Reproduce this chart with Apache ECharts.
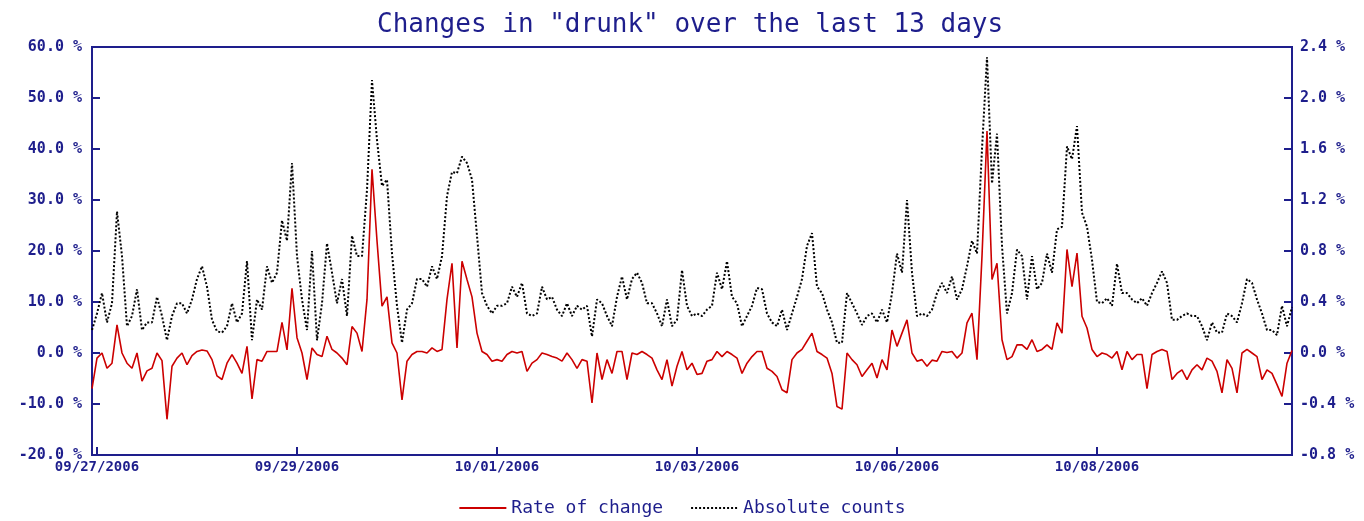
<!DOCTYPE html>
<html>
<head>
<meta charset="utf-8">
<script src="https://cdn.jsdelivr.net/npm/echarts@6/dist/echarts.min.js"></script>
<style>
  html, body { margin: 0; padding: 0; background: #fff; }
  #chart { width: 1364px; height: 521px; }
</style>
</head>
<body>
<div id="chart"></div>
<script>
// x tick labels, one every 40 samples starting at sample 1
var tickLabels = ['09/27/2006', '09/29/2006', '10/01/2006', '10/03/2006', '10/06/2006', '10/08/2006'];

// left axis, %
var rateOfChange = [
  -7, -1, 0, -3, -2, 5.5, 0, -2, -3, 0,
  -5.5, -3.5, -3, 0, -1.5, -13, -2.6, -1, 0, -2.3,
  -0.5, 0.3, 0.6, 0.4, -1.3, -4.5, -5.2, -2, -0.3, -2,
  -4, 1.3, -9, -1.3, -1.6, 0.3, 0.3, 0.3, 6, 0.6,
  12.7, 3, 0, -5.2, 1, -0.3, -0.7, 3.3, 0.7, 0,
  -1, -2.3, 5.2, 3.9, 0.3, 10.5, 36, 22, 9.2, 11,
  2, 0, -9.2, -1.6, -0.3, 0.3, 0.3, 0, 1, 0.3,
  0.7, 10.5, 17.6, 1, 18, 14.4, 11, 3.9, 0.3, -0.3,
  -1.6, -1.3, -1.6, -0.3, 0.3, 0, 0.3, -3.6, -2, -1.3,
  0, -0.3, -0.7, -1, -1.6, 0, -1.3, -3, -1.3, -1.6,
  -9.8, 0, -5.2, -1.3, -4, 0.3, 0.3, -5.2, 0, -0.3,
  0.3, -0.3, -1, -3.3, -5.2, -1.3, -6.5, -2.6, 0.3, -3.3,
  -2, -4.2, -4, -1.6, -1.3, 0.3, -0.7, 0.3, -0.3, -1,
  -4, -2, -0.7, 0.3, 0.3, -3, -3.6, -4.6, -7.2, -7.8,
  -1.3, 0, 0.7, 2.3, 3.9, 0.3, -0.3, -1, -4, -10.5,
  -11, 0, -1.3, -2.3, -4.6, -3.3, -2, -4.9, -1.3, -3.3,
  4.5, 1.3, 3.9, 6.5, 0, -1.6, -1.3, -2.6, -1.4, -1.6,
  0.3, 0.1, 0.3, -1, 0, 5.9, 7.8, -1.3, 19, 43.5,
  14.4, 17.6, 2.6, -1.3, -0.7, 1.6, 1.6, 0.7, 2.6, 0.3,
  0.7, 1.6, 0.7, 5.9, 3.9, 20.3, 13, 19.6, 7.2, 4.9,
  0.7, -0.7, 0, -0.3, -1, 0.3, -3.3, 0.3, -1.3, -0.3,
  -0.3, -7, -0.3, 0.3, 0.7, 0.3, -5.2, -4, -3.3, -5.2,
  -3.3, -2.3, -3.3, -1, -1.6, -3.6, -7.8, -1.3, -3, -7.8,
  0, 0.7, 0, -0.7, -5.2, -3.3, -4, -6.2, -8.5, -2,
  0.5
];

// right axis, %
var absoluteCounts = [
  0.18, 0.31, 0.47, 0.24, 0.39, 1.11, 0.76, 0.21, 0.29, 0.50,
  0.18, 0.24, 0.24, 0.44, 0.29, 0.10, 0.29, 0.39, 0.39, 0.31,
  0.42, 0.58, 0.68, 0.52, 0.26, 0.17, 0.16, 0.21, 0.39, 0.24,
  0.31, 0.72, 0.10, 0.42, 0.34, 0.68, 0.55, 0.63, 1.04, 0.88,
  1.49, 0.76, 0.42, 0.18, 0.80, 0.10, 0.39, 0.86, 0.63, 0.39,
  0.58, 0.29, 0.92, 0.76, 0.76, 1.28, 2.14, 1.67, 1.31, 1.36,
  0.78, 0.37, 0.08, 0.34, 0.39, 0.58, 0.58, 0.52, 0.68, 0.58,
  0.76, 1.23, 1.42, 1.41, 1.54, 1.49, 1.36, 0.92, 0.47, 0.37,
  0.31, 0.37, 0.37, 0.39, 0.52, 0.44, 0.55, 0.31, 0.29, 0.31,
  0.52, 0.42, 0.44, 0.34, 0.29, 0.39, 0.29, 0.37, 0.34, 0.37,
  0.13, 0.42, 0.39, 0.29, 0.21, 0.44, 0.60, 0.42, 0.58, 0.63,
  0.55, 0.39, 0.39, 0.31, 0.21, 0.42, 0.21, 0.26, 0.65, 0.37,
  0.29, 0.31, 0.29, 0.34, 0.37, 0.63, 0.50, 0.72, 0.44, 0.39,
  0.21, 0.29, 0.37, 0.51, 0.50, 0.31, 0.24, 0.21, 0.34, 0.18,
  0.31, 0.44, 0.58, 0.84, 0.94, 0.52, 0.47, 0.34, 0.24, 0.08,
  0.08, 0.47, 0.39, 0.31, 0.22, 0.29, 0.31, 0.24, 0.34, 0.24,
  0.47, 0.78, 0.63, 1.20, 0.63, 0.29, 0.31, 0.29, 0.34, 0.47,
  0.55, 0.47, 0.60, 0.42, 0.50, 0.68, 0.88, 0.78, 1.60, 2.32,
  1.33, 1.72, 0.84, 0.31, 0.47, 0.81, 0.76, 0.42, 0.76, 0.50,
  0.55, 0.78, 0.63, 0.97, 0.99, 1.62, 1.52, 1.78, 1.10, 0.99,
  0.73, 0.40, 0.39, 0.43, 0.37, 0.70, 0.47, 0.47, 0.42, 0.39,
  0.43, 0.37, 0.47, 0.55, 0.64, 0.55, 0.26, 0.26, 0.29, 0.31,
  0.29, 0.29, 0.21, 0.10, 0.24, 0.16, 0.16, 0.31, 0.29, 0.24,
  0.39, 0.58, 0.55, 0.42, 0.31, 0.18, 0.18, 0.14, 0.37, 0.21,
  0.36
];

var navy = '#1e1e8c';
var mono = "'DejaVu Sans Mono', 'Liberation Mono', monospace";
var categories = rateOfChange.map(function(v, i) { return i; });

var myChart = echarts.init(document.getElementById('chart'));

var option = {
  backgroundColor: '#ffffff',
  animation: false,
  title: {
    text: 'Changes in "drunk" over the last 13 days',
    left: 372,
    top: 7,
    textStyle: { color: navy, fontFamily: mono, fontSize: 26, fontWeight: 'normal' }
  },
  legend: {
    top: 494,
    left: 'center',
    itemWidth: 47,
    itemHeight: 10,
    itemGap: 27,
    itemStyle: { opacity: 0 },
    textStyle: { color: navy, fontFamily: mono, fontSize: 18 },
    data: ['Rate of change', 'Absolute counts']
  },
  grid: {
    left: 92, right: 72, top: 47, bottom: 66,
    show: true, borderColor: navy, borderWidth: 2
  },
  xAxis: {
    type: 'category',
    data: categories,
    boundaryGap: false,
    axisLine: { onZero: false, lineStyle: { color: navy, width: 2 } },
    axisTick: {
      inside: true, length: 8,
      lineStyle: { color: navy, width: 2 },
      interval: function(i) { return i % 40 === 1; }
    },
    axisLabel: {
      color: navy, fontFamily: mono, fontSize: 14, fontWeight: 'bold', margin: 5,
      interval: function(i) { return i % 40 === 1; },
      formatter: function(v, i) { return tickLabels[(i - 1) / 40]; }
    },
    splitLine: { show: false }
  },
  yAxis: [{
    type: 'value',
    min: -20, max: 60, interval: 10,
    axisLine: { show: true, lineStyle: { color: navy, width: 2 } },
    axisTick: { show: true, inside: true, length: 8, lineStyle: { color: navy, width: 2 } },
    axisLabel: {
      color: navy, fontFamily: mono, fontSize: 15, fontWeight: 'bold', margin: 10,
      formatter: function(v) { return v.toFixed(1) + ' %'; }
    },
    splitLine: { show: false }
  }, {
    type: 'value',
    min: -0.8, max: 2.4, interval: 0.4,
    position: 'right',
    axisLine: { show: true, lineStyle: { color: navy, width: 2 } },
    axisTick: { show: true, inside: true, length: 8, lineStyle: { color: navy, width: 2 } },
    axisLabel: {
      color: navy, fontFamily: mono, fontSize: 15, fontWeight: 'bold', margin: 8,
      formatter: function(v) { return v.toFixed(1) + ' %'; }
    },
    splitLine: { show: false }
  }],
  series: [{
    name: 'Rate of change',
    type: 'line',
    yAxisIndex: 0,
    symbol: 'none',
    data: rateOfChange,
    itemStyle: { color: '#cc0000' },
    lineStyle: { color: '#cc0000', width: 1.6 },
    z: 3
  }, {
    name: 'Absolute counts',
    type: 'line',
    yAxisIndex: 1,
    symbol: 'none',
    data: absoluteCounts,
    itemStyle: { color: '#000000' },
    lineStyle: { color: '#000000', width: 2, type: [2, 2] },
    z: 2
  }]
};

myChart.setOption(option);
</script>
</body>
</html>
